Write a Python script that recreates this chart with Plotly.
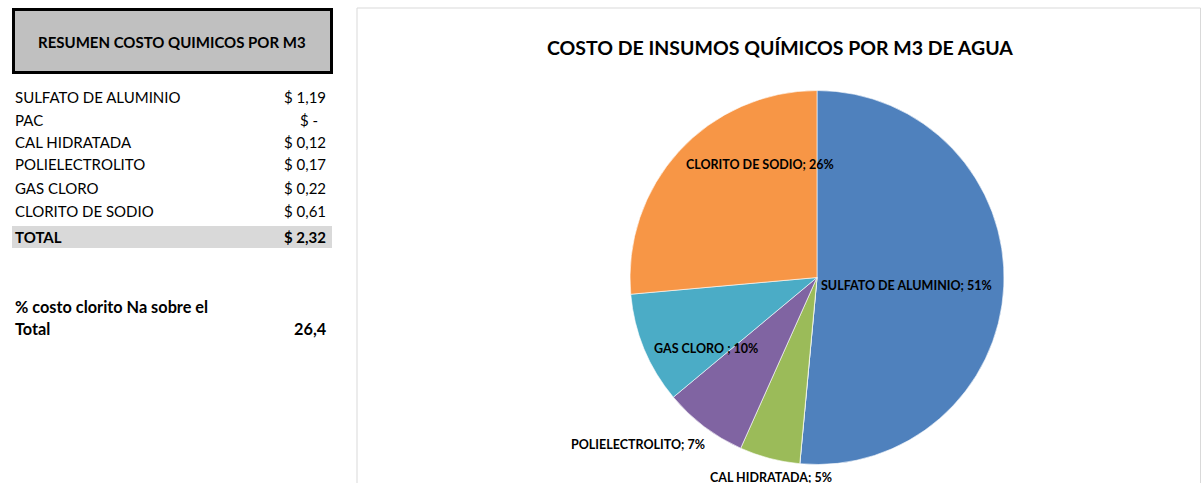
import plotly.graph_objects as go

# ---- data ----
chemicals = ["SULFATO DE ALUMINIO", "PAC", "CAL HIDRATADA", "POLIELECTROLITO", "GAS CLORO", "CLORITO DE SODIO"]
pie_labels = ["SULFATO DE ALUMINIO", "PAC", "CAL HIDRATADA", "POLIELECTROLITO", "GAS CLORO ", "CLORITO DE SODIO"]
costs = [1.192, 0.0, 0.121, 0.168, 0.223, 0.612]
colors = ["#4F81BD", "#C0504D", "#9BBB59", "#8064A2", "#4BACC6", "#F79646"]
title_text = "COSTO DE INSUMOS QUÍMICOS POR M3 DE AGUA"
table_title = "RESUMEN COSTO QUIMICOS POR M3"

W, H = 1201, 483
FONT = "Lato"


def px(x):
    return x / W


def py(y):
    return 1 - y / H


def money(v):
    if v == 0:
        return "$ -  "
    return "$ " + f"{v:.2f}".replace(".", ",")


def text_at(x, y, text, size, anchor="center", bold=False):
    return dict(x=px(x), y=py(y), text=("<b>" + text + "</b>") if bold else text, showarrow=False,
                xanchor=anchor, yanchor="middle", xref="paper", yref="paper",
                font=dict(family=FONT, size=size, color="black"))


total = sum(costs)
clorito_pct = costs[chemicals.index("CLORITO DE SODIO")] / total * 100

fig = go.Figure()

# pie
cx, cy, r = 817, 277.5, 187
fig.add_trace(go.Pie(
    labels=pie_labels, values=costs, sort=False, direction="clockwise", rotation=0,
    marker=dict(colors=colors, line=dict(color="white", width=0.6)),
    textinfo="none", hoverinfo="label+percent", showlegend=False,
    domain=dict(x=[px(cx - r), px(cx + r)], y=[py(cy + r), py(cy - r)]),
))

shapes = []
ann = []

# chart area border
shapes.append(dict(type="rect", xref="paper", yref="paper", x0=px(357), x1=px(1200.5), y0=py(490), y1=py(8),
                   line=dict(color="#D9D9D9", width=1), fillcolor="rgba(0,0,0,0)", layer="below"))

# header box
shapes.append(dict(type="rect", xref="paper", yref="paper", x0=px(13.5), x1=px(331.5), y0=py(72.5), y1=py(9.5),
                   line=dict(color="black", width=3), fillcolor="#C0C0C0", layer="below"))
ann.append(text_at(172, 42, table_title, 15, bold=True))

# rows
row_y = [97, 119.5, 142, 164.5, 187.5, 211]
for name, v, y in zip(chemicals, costs, row_y):
    ann.append(text_at(13, y, name, 15, anchor="left"))
    ann.append(text_at(328, y, money(v), 15, anchor="right"))

# total band
shapes.append(dict(type="rect", xref="paper", yref="paper", x0=px(12), x1=px(332), y0=py(248), y1=py(226),
                   line=dict(width=0), fillcolor="#D9D9D9", layer="below"))
ann.append(text_at(13, 236.5, "TOTAL", 15, anchor="left", bold=True))
ann.append(text_at(328, 236.5, money(total), 15, anchor="right", bold=True))

ann.append(text_at(13, 306, "% costo clorito Na sobre el", 16.3, anchor="left", bold=True))
ann.append(text_at(13, 328.5, "Total", 16.3, anchor="left", bold=True))
ann.append(text_at(329, 328.5, f"{clorito_pct:.1f}".replace(".", ","), 16.3, anchor="right", bold=True))

# chart title
ann.append(text_at(779.5, 47, title_text, 19.5, bold=True))

# pie data labels
label_pos = {
    "SULFATO DE ALUMINIO": (906, 285),
    "CAL HIDRATADA": (771, 477),
    "POLIELECTROLITO": (638, 444),
    "GAS CLORO ": (706, 348),
    "CLORITO DE SODIO": (760, 164),
}
for lab, v in zip(pie_labels, costs):
    if v == 0:
        continue
    x, y = label_pos[lab]
    ann.append(text_at(x, y, f"{lab}; {round(v / total * 100)}%", 12.5, bold=True))

fig.update_layout(
    width=W, height=H, margin=dict(l=0, r=0, t=0, b=0),
    paper_bgcolor="white", plot_bgcolor="white",
    shapes=shapes, annotations=ann,
)

fig.write_html("out.html", config={"displayModeBar": False},
               post_script="document.body.style.margin='0';document.body.style.overflow='hidden';")
